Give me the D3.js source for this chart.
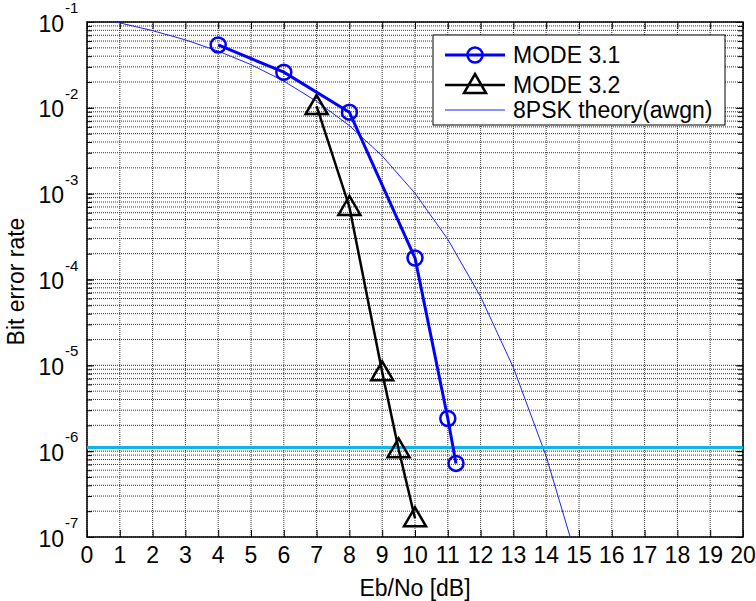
<!DOCTYPE html>
<html><head><meta charset="utf-8">
<script src="https://cdn.jsdelivr.net/npm/d3@7"></script>
<style>body{margin:0;background:#fff;} text{font-family:Arial,"Liberation Sans",sans-serif;}</style>
</head><body><svg id="c" width="756" height="601"></svg>
<script>
const xTicks = d3.range(0, 21);
const yExponents = [-1, -2, -3, -4, -5, -6, -7];
const mode31X = [4, 6, 8, 10, 11, 11.25];
const mode31Y = [0.054, 0.026, 0.0089, 1.78e-4, 2.4e-6, 7.2e-7];
const mode32X = [7, 8, 9, 9.5, 10];
const mode32Y = [0.0105, 7e-4, 8.3e-6, 1.05e-6, 1.65e-7];
const theoryX = d3.range(0, 16);
const theoryY = [0.116, 0.0976, 0.0793, 0.0619, 0.0458, 0.0319, 0.0205, 0.0119, 0.0062, 0.00275, 0.00101, 2.94e-4, 6.3e-5, 9.4e-6, 8.7e-7, 4.5e-8];
const thresholdY = 1.1e-6;
const legendLabels = ["MODE 3.1", "MODE 3.2", "8PSK theory(awgn)"];

const L = 87, R = 743, T = 22, B = 537;
const svg = d3.select("#c");
const x = d3.scaleLinear().domain([0, 20]).range([L, R]);
const y = d3.scaleLog().domain([1e-7, 1e-1]).range([B, T]);

svg.append("defs").append("clipPath").attr("id", "clip")
  .append("rect").attr("x", L).attr("y", T).attr("width", R - L).attr("height", B - T);

// grid
const minorY = [];
for (let e = -7; e < -1; e++) for (let m = 1; m <= 9; m++) minorY.push(m * Math.pow(10, e));
minorY.push(1e-1);
const g = svg.append("g");
g.selectAll(".hg").data(minorY).enter().append("line")
  .attr("x1", L).attr("x2", R).attr("y1", d => y(d)).attr("y2", d => y(d))
  .attr("stroke", "#333").attr("stroke-width", 1).attr("stroke-dasharray", "1,1");
g.selectAll(".vg").data(xTicks).enter().append("line")
  .attr("y1", T).attr("y2", B).attr("x1", d => x(d)).attr("x2", d => x(d))
  .attr("stroke", "#333").attr("stroke-width", 1).attr("stroke-dasharray", "1,1");

// axes with inner ticks
const axB = d3.axisBottom(x).tickValues(xTicks).tickSize(-7).tickFormat("");
const axT = d3.axisTop(x).tickValues(xTicks).tickSize(-7).tickFormat("");
const axL = d3.axisLeft(y).tickValues(minorY).tickSize(-5).tickFormat("");
const axRt = d3.axisRight(y).tickValues(minorY).tickSize(-5).tickFormat("");
const majY = yExponents.map(e => Math.pow(10, e));
const axL2 = d3.axisLeft(y).tickValues(majY).tickSize(-7).tickFormat("");
const axR2 = d3.axisRight(y).tickValues(majY).tickSize(-7).tickFormat("");
[[axB, `translate(0,${B})`], [axT, `translate(0,${T})`], [axL, `translate(${L},0)`], [axRt, `translate(${R},0)`], [axL2, `translate(${L},0)`], [axR2, `translate(${R},0)`]]
  .forEach(([a, t]) => {
    const gg = svg.append("g").attr("transform", t).call(a);
    gg.selectAll("path").remove();
    gg.selectAll("line").attr("stroke", "#000").attr("stroke-width", 1);
  });
svg.append("rect").attr("x", L).attr("y", T).attr("width", R - L).attr("height", B - T)
  .attr("fill", "none").attr("stroke", "#000").attr("stroke-width", 1.5);

// tick labels
svg.selectAll(".xl").data(xTicks).enter().append("text")
  .attr("x", d => x(d)).attr("y", 563).attr("text-anchor", "middle")
  .attr("font-size", 23).attr("fill", "#000").text(d => d);
yExponents.forEach(e => {
  const yy = y(Math.pow(10, e));
  svg.append("text").attr("x", 64).attr("y", yy + 9.5).attr("text-anchor", "end")
    .attr("font-size", 23).text("10");
  svg.append("text").attr("x", 65).attr("y", yy - 9).attr("text-anchor", "start")
    .attr("font-size", 15).text(String(e));
});
svg.append("text").attr("x", (L + R) / 2).attr("y", 596).attr("text-anchor", "middle")
  .attr("font-size", 23).text("Eb/No [dB]");
svg.append("text").attr("transform", `translate(24,${(T + B) / 2 + 2}) rotate(-90)`)
  .attr("text-anchor", "middle").attr("font-size", 23).text("Bit error rate");

// data
const plot = svg.append("g").attr("clip-path", "url(#clip)");
const line = (xs, ys) => d3.line().x((d, i) => x(xs[i])).y((d, i) => y(ys[i]))(ys);
plot.append("path").attr("d", line(theoryX, theoryY)).attr("fill", "none")
  .attr("stroke", "#2020ff").attr("stroke-width", 1);
plot.append("line").attr("x1", L).attr("x2", R).attr("y1", y(thresholdY)).attr("y2", y(thresholdY))
  .attr("stroke", "#10b4ea").attr("stroke-width", 3);
svg.append("path").attr("d", line(mode31X, mode31Y)).attr("fill", "none")
  .attr("stroke", "#0000ff").attr("stroke-width", 3);
svg.append("path").attr("d", line(mode32X, mode32Y)).attr("fill", "none")
  .attr("stroke", "#000").attr("stroke-width", 2.5);
const tri = "M0,-11 L11,8 L-11,8 Z";
svg.selectAll(".c31").data(mode31X).enter().append("circle")
  .attr("cx", d => x(d)).attr("cy", (d, i) => y(mode31Y[i])).attr("r", 7.5)
  .attr("fill", "none").attr("stroke", "#0000ff").attr("stroke-width", 2.5);
svg.selectAll(".t32").data(mode32X).enter().append("path")
  .attr("d", tri).attr("transform", (d, i) => `translate(${x(d)},${y(mode32Y[i])})`)
  .attr("fill", "none").attr("stroke", "#000").attr("stroke-width", 2.5);

// legend
const lg = svg.append("g");
lg.append("rect").attr("x", 433).attr("y", 35).attr("width", 292).attr("height", 90)
  .attr("fill", "#fff").attr("stroke", "#000").attr("stroke-width", 1);
const rows = [55, 85, 110];
lg.append("line").attr("x1", 445).attr("x2", 505).attr("y1", rows[0]).attr("y2", rows[0]).attr("stroke", "#0000ff").attr("stroke-width", 3);
lg.append("circle").attr("cx", 475).attr("cy", rows[0]).attr("r", 7.5).attr("fill", "none").attr("stroke", "#0000ff").attr("stroke-width", 2.5);
lg.append("line").attr("x1", 445).attr("x2", 505).attr("y1", rows[1]).attr("y2", rows[1]).attr("stroke", "#000").attr("stroke-width", 2.5);
lg.append("path").attr("d", tri).attr("transform", `translate(475,${rows[1]})`).attr("fill", "none").attr("stroke", "#000").attr("stroke-width", 2.5);
lg.append("line").attr("x1", 445).attr("x2", 505).attr("y1", rows[2]).attr("y2", rows[2]).attr("stroke", "#2020ff").attr("stroke-width", 1);
legendLabels.forEach((t, i) => {
  lg.append("text").attr("x", 513).attr("y", rows[i] + 8).attr("font-size", 23).text(t);
});
</script></body></html>
